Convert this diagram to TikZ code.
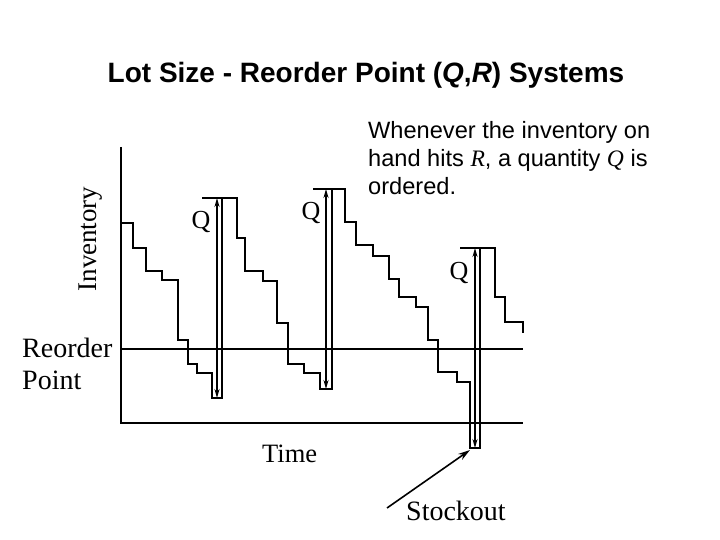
\documentclass[tikz,border=0pt]{standalone}
\usepackage{fontspec}
\setmainfont{Liberation Serif}
\newfontfamily\arialf{Liberation Sans}
\usetikzlibrary{arrows.meta}
\tikzset{
  ln/.style={line width=1.6pt, line join=miter},
  dimarrow/.style={line width=1.4pt, {Stealth[length=9pt,width=5pt]}-{Stealth[length=9pt,width=5pt]}},
  serif/.style={inner sep=0pt, font=\fontsize{27}{27}\selectfont},
  qlab/.style={inner sep=0pt, anchor=base, font=\fontsize{26}{26}\selectfont},
  sans/.style={inner sep=0pt, anchor=base west, font=\arialf\fontsize{23.6}{28}\selectfont},
}
\newcommand{\serifit}[1]{{\rmfamily\itshape #1}}
\begin{document}
\begin{tikzpicture}[x=1pt,y=-1pt]
\useasboundingbox (0,0) rectangle (720,540);
% title
\node[inner sep=0pt, anchor=base, font=\arialf\bfseries\fontsize{28}{28}\selectfont] (title) at (366,83)
  {Lot Size - Reorder Point (\textit{Q},\textit{R}) Systems};
% axes
\coordinate (o) at (121,423);
\coordinate (ytop) at (121,147);
\coordinate (xend) at (523,423);
\coordinate (r0) at (121,349);
\coordinate (r1) at (523,349);
\draw[ln] (ytop) -- (o) -- (xend);
\draw[ln] (r0) -- (r1);
% inventory staircase
\draw[ln] (121,223) -- (133,223) -- (133,248) -- (146,248) -- (146,271) -- (162,271) -- (162,280)
  -- (178,280) -- (178,340) -- (188,340) -- (188,364) -- (197,364) -- (197,373) -- (212,373)
  -- (212,398) -- (222,398) -- (222,198) -- (237,198) -- (237,238) -- (245,238) -- (245,271)
  -- (263,271) -- (263,281) -- (277,281) -- (277,323) -- (288,323) -- (288,364) -- (304,364)
  -- (304,373) -- (320,373) -- (320,389) -- (332,389) -- (332,189) -- (345,189) -- (345,222)
  -- (356,222) -- (356,245) -- (373,245) -- (373,256) -- (389,256) -- (389,279) -- (399,279)
  -- (399,297) -- (416,297) -- (416,307) -- (428,307) -- (428,340) -- (438,340) -- (438,372)
  -- (457,372) -- (457,382) -- (470,382) -- (470,448) -- (480,448) -- (480,248) -- (495,248)
  -- (495,297) -- (505,297) -- (505,322) -- (523,322) -- (523,333);
% extension ticks
\draw[ln] (202,198) -- (222,198);
\draw[ln] (313,189) -- (332,189);
\draw[ln] (460,248) -- (480,248);
% Q arrows
\coordinate (a1t) at (217,198); \coordinate (a1b) at (217,398);
\coordinate (a2t) at (326,189); \coordinate (a2b) at (326,389);
\coordinate (a3t) at (475,248); \coordinate (a3b) at (475,448);
\draw[dimarrow] (a1b) -- (a1t);
\draw[dimarrow] (a2b) -- (a2t);
\draw[dimarrow] (a3b) -- (a3t);
\node[qlab] (q1) at (201,229) {Q};
\node[qlab] (q2) at (311,220) {Q};
\node[qlab] (q3) at (459,279) {Q};
% labels
\node[serif, rotate=90, anchor=base] (inv) at (96,239) {Inventory};
\node[serif, anchor=base west, font=\fontsize{28}{28}\selectfont] (reo) at (22,357) {Reorder};
\node[serif, anchor=base west, font=\fontsize{28}{28}\selectfont] (pt) at (22,389) {Point};
\node[serif, anchor=base west, font=\fontsize{26.5}{26.5}\selectfont] (time) at (262,462) {Time};
\node[serif, anchor=base west, font=\fontsize{28}{28}\selectfont] (stock) at (406,520) {Stockout};
\coordinate (sostart) at (387,508);
\coordinate (soend) at (470,450);
\draw[line width=1.6pt, -{Stealth[length=12pt,width=7pt]}] (sostart) -- (soend);
% text
\node[sans] (t1) at (368,139) {Whenever the inventory on};
\node[sans] (t2) at (368,167) {hand hits \serifit{R}, a quantity \serifit{Q} is};
\node[sans] (t3) at (368,195) {ordered.};
\end{tikzpicture}
\end{document}
